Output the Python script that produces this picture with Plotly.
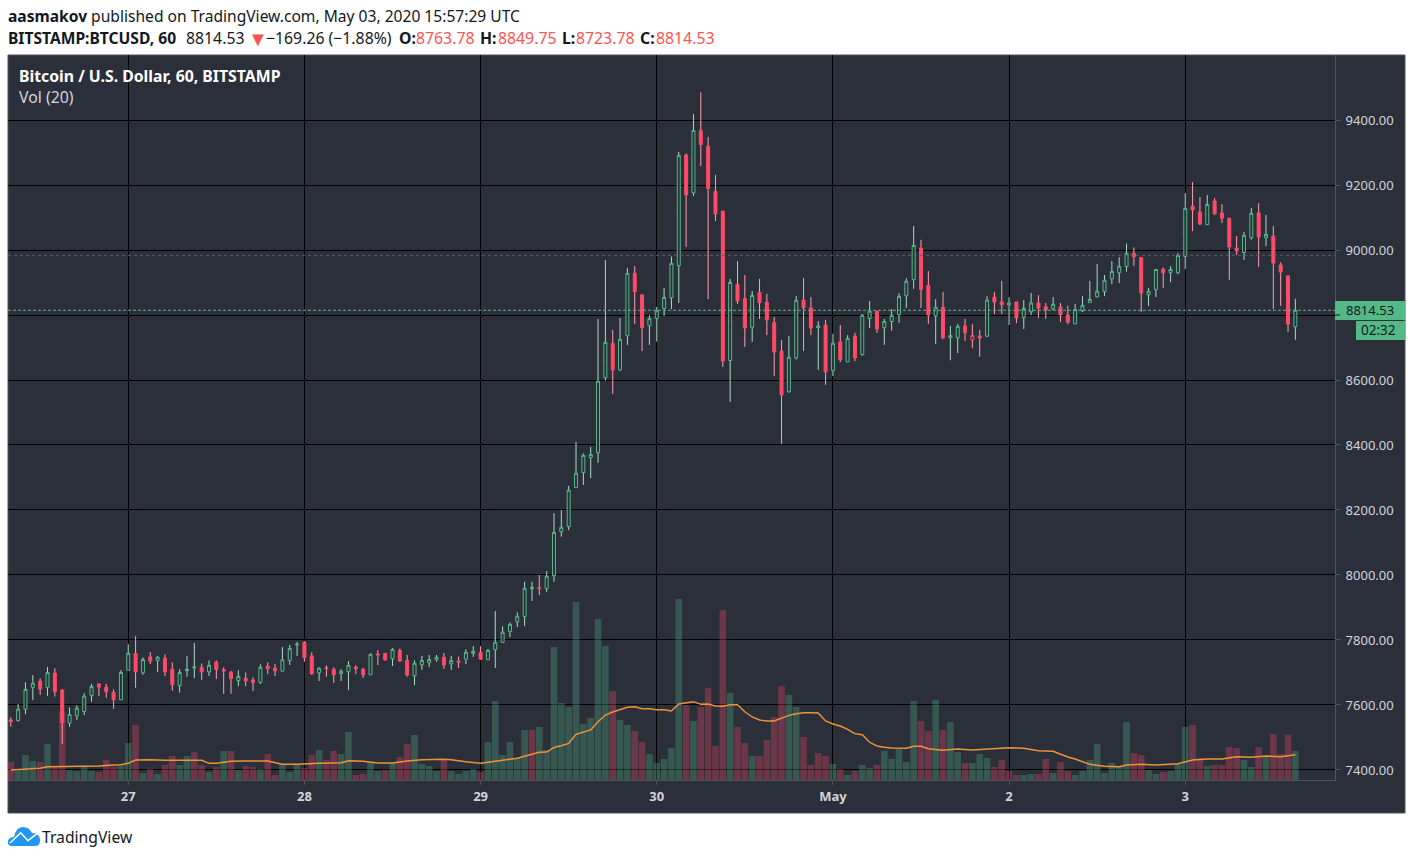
import pandas as pd
import plotly.graph_objects as go

W, H = 1414, 860

times = pd.date_range("2020-04-26 08:00", periods=176, freq="h")

opens = [
    7554, 7552, 7587, 7654, 7674, 7654, 7698, 7646, 7544, 7567,
    7580, 7629, 7665, 7655, 7639, 7616, 7707, 7759, 7699, 7748,
    7737, 7744, 7710, 7660, 7706, 7714, 7716, 7702, 7732, 7708,
    7701, 7675, 7682, 7677, 7669, 7720, 7714, 7704, 7737, 7785,
    7793, 7751, 7699, 7714, 7710, 7697, 7702, 7716, 7710, 7693,
    7757, 7759, 7742, 7768, 7737, 7690, 7724, 7730, 7739, 7747,
    7727, 7735, 7741, 7759, 7762, 7739, 7770, 7793, 7826, 7856,
    7872, 7958, 7960, 7958, 7998, 8133, 8149, 8269, 8315, 8361,
    8376, 8607, 8713, 8631, 8736, 8928, 8862, 8767, 8789, 8820,
    8853, 8952, 9292, 9176, 9368, 9319, 9180, 9120, 8660, 8894,
    8851, 8762, 8870, 8839, 8777, 8689, 8564, 8668, 8846, 8822,
    8761, 8769, 8629, 8717, 8656, 8735, 8678, 8789, 8812, 8761,
    8780, 8801, 8859, 8909, 9006, 8891, 8797, 8824, 8730, 8730,
    8766, 8724, 8735, 8735, 8855, 8840, 8831, 8840, 8792, 8810,
    8837, 8825, 8819, 8825, 8800, 8773, 8813, 8838, 8856, 8872,
    8911, 8930, 8949, 8990, 8977, 8862, 8878, 8941, 8930, 8930,
    8980, 9135, 9117, 9078, 9151, 9114, 9098, 9006, 8992, 9038,
    9114, 9038, 9043, 8954, 8920, 8763.78,
]
closes = [
    7549, 7587, 7648, 7667, 7649, 7700, 7641, 7546, 7571, 7590,
    7627, 7657, 7655, 7641, 7616, 7700, 7759, 7702, 7740, 7735,
    7747, 7702, 7662, 7700, 7710, 7717, 7702, 7722, 7709, 7705,
    7681, 7688, 7674, 7669, 7716, 7712, 7705, 7739, 7774, 7787,
    7746, 7696, 7713, 7712, 7693, 7704, 7722, 7712, 7693, 7756,
    7754, 7739, 7771, 7735, 7692, 7728, 7737, 7740, 7747, 7723,
    7737, 7732, 7762, 7765, 7741, 7768, 7793, 7824, 7848, 7873,
    7959, 7962, 7958, 7996, 8131, 8147, 8261, 8313, 8368, 8371,
    8596, 8716, 8631, 8725, 8928, 8872, 8761, 8789, 8813, 8854,
    8959, 9291, 9170, 9368, 9324, 9189, 9111, 8658, 8900, 8843,
    8760, 8860, 8838, 8785, 8686, 8554, 8670, 8845, 8822, 8760,
    8766, 8625, 8713, 8662, 8728, 8668, 8799, 8812, 8757, 8780,
    8799, 8857, 8904, 9014, 8878, 8800, 8824, 8729, 8737, 8765,
    8745, 8737, 8729, 8846, 8840, 8831, 8837, 8791, 8820, 8837,
    8821, 8815, 8833, 8800, 8778, 8817, 8830, 8848, 8873, 8907,
    8934, 8950, 8990, 8979, 8868, 8873, 8940, 8930, 8940, 8983,
    9128, 9123, 9080, 9140, 9111, 9098, 9009, 8997, 9045, 9113,
    9040, 9048, 8960, 8932, 8772, 8814.53,
]
highs = [
    7562, 7603, 7670, 7692, 7682, 7717, 7713, 7649, 7593, 7599,
    7636, 7665, 7665, 7665, 7648, 7707, 7787, 7812, 7747, 7763,
    7750, 7756, 7731, 7710, 7751, 7791, 7728, 7737, 7737, 7716,
    7705, 7707, 7700, 7685, 7725, 7731, 7726, 7778, 7785, 7794,
    7797, 7762, 7716, 7722, 7716, 7710, 7735, 7722, 7714, 7759,
    7769, 7760, 7775, 7774, 7754, 7737, 7751, 7754, 7754, 7760,
    7751, 7749, 7771, 7781, 7781, 7772, 7889, 7842, 7854, 7885,
    7979, 7979, 8000, 8012, 8190, 8200, 8274, 8409, 8374, 8394,
    8788, 8969, 8754, 8791, 8945, 8951, 8862, 8799, 8825, 8883,
    8980, 9302, 9297, 9418, 9485, 9348, 9231, 9120, 8911, 8966,
    8923, 8874, 8911, 8865, 8794, 8723, 8735, 8858, 8914, 8855,
    8781, 8785, 8742, 8769, 8738, 8745, 8803, 8843, 8812, 8788,
    8818, 8867, 8913, 9074, 9031, 8935, 8849, 8871, 8766, 8772,
    8788, 8772, 8754, 8858, 8871, 8905, 8855, 8840, 8846, 8868,
    8861, 8837, 8855, 8837, 8828, 8834, 8858, 8905, 8957, 8923,
    8966, 8978, 9020, 9008, 8977, 8883, 8940, 8946, 8950, 8990,
    9175, 9209, 9163, 9169, 9160, 9141, 9098, 9043, 9055, 9129,
    9144, 9108, 9074, 8962, 8923, 8849.75,
]
lows = [
    7533, 7549, 7572, 7615, 7631, 7628, 7626, 7480, 7533, 7554,
    7569, 7610, 7628, 7622, 7588, 7616, 7705, 7653, 7693, 7726,
    7702, 7689, 7644, 7638, 7687, 7683, 7677, 7689, 7680, 7634,
    7634, 7658, 7658, 7643, 7665, 7695, 7689, 7704, 7723, 7751,
    7733, 7693, 7674, 7687, 7668, 7674, 7646, 7695, 7683, 7693,
    7723, 7736, 7720, 7733, 7687, 7661, 7708, 7717, 7733, 7711,
    7708, 7714, 7726, 7748, 7739, 7739, 7714, 7791, 7809, 7840,
    7843, 7920, 7938, 7948, 7979, 8118, 8138, 8269, 8277, 8298,
    8345, 8598, 8557, 8628, 8708, 8772, 8689, 8708, 8718, 8797,
    8818, 8837, 9009, 9166, 9258, 8849, 9089, 8640, 8533, 8834,
    8702, 8717, 8788, 8738, 8612, 8403, 8561, 8663, 8689, 8738,
    8631, 8585, 8612, 8655, 8656, 8658, 8675, 8760, 8745, 8708,
    8752, 8776, 8822, 8881, 8822, 8773, 8711, 8726, 8661, 8683,
    8720, 8698, 8671, 8732, 8803, 8803, 8769, 8775, 8757, 8800,
    8791, 8788, 8815, 8778, 8772, 8773, 8809, 8838, 8854, 8858,
    8895, 8898, 8933, 8951, 8810, 8828, 8855, 8883, 8901, 8926,
    8941, 9058, 9077, 9078, 9108, 9083, 8908, 8984, 8969, 9032,
    8948, 9012, 8818, 8828, 8748, 8723.78,
]
volumes = [
    180, 93, 250, 190, 180, 360, 143, 683, 100, 90,
    133, 93, 80, 200, 133, 143, 370, 550, 70, 110,
    60, 150, 240, 150, 240, 280, 150, 80, 130, 290,
    290, 100, 140, 130, 110, 260, 50, 160, 80, 150,
    120, 250, 300, 200, 290, 260, 480, 50, 60, 173,
    90, 100, 167, 230, 360, 450, 160, 140, 90, 200,
    90, 60, 90, 110, 80, 380, 790, 250, 380, 220,
    500, 500, 530, 300, 1330, 770, 730, 1780, 560, 620,
    1610, 1340, 890, 600, 550, 490, 380, 260, 170, 210,
    320, 1810, 750, 590, 730, 920, 340, 1700, 870, 530,
    370, 240, 240, 400, 630, 940, 850, 730, 430, 150,
    270, 240, 160, 110, 50, 90, 150, 120, 150, 290,
    210, 310, 180, 790, 590, 490, 800, 500, 580, 280,
    170, 170, 260, 220, 130, 200, 90, 50, 50, 60,
    60, 210, 70, 180, 90, 50, 90, 200, 360, 70,
    170, 130, 580, 270, 250, 100, 60, 80, 90, 160,
    530, 550, 220, 140, 150, 150, 330, 320, 200, 130,
    330, 230, 460, 260, 450, 290,
]
volume_dirs = (
    "RGGGRGRRGG" "GGRRRGGRGR" "GRRGGRRGRG" "RGRRGRRGGG" "RRGRRGGRRG"
    "GRGRRGGGGR" "GGGGRGGGGG" "GRGGGGGGGG" "GGRGGRRGGG" "GGRGRRRRGR"
    "RGRRRRGGRR" "RRGRGRGGRG" "GGGGRRGRGG" "RGGGRRRRGG" "RRGRRGGGGG"
    "GGGRRGGRGG" "GRRGRRRRGG" "RGRRRG"
)
# bar numbers (1 = first candle) where the Vol MA line was read
ma_bars = [
    1, 4, 5, 6, 8, 11, 13, 15, 16, 17, 18, 20, 22, 27, 28, 29, 31, 33, 36, 38,
    40, 43, 46, 47, 49, 51, 53, 55, 57, 60, 61, 63, 65, 66, 68, 69, 70, 72, 73, 74,
    75, 76, 77, 78, 79, 80, 81, 82, 83, 84, 85, 86, 87, 88, 89, 90, 91, 92, 93, 94,
    95, 96, 97, 98, 99, 100, 101, 102, 103, 104, 105, 106, 107, 108, 109, 110, 111, 112, 113, 114,
    115, 116, 117, 118, 119, 120, 121, 123, 124, 125, 126, 128, 130, 132, 134, 137, 139, 141, 143, 145,
    146, 148, 150, 152, 153, 155, 157, 160, 162, 164, 166, 168, 170, 172, 174, 176,
]
ma_values = [
    100, 113, 117, 133, 133, 137, 140, 150, 153, 167, 200, 203, 197, 197, 167, 167, 187, 190, 190, 157,
    157, 167, 173, 193, 187, 170, 170, 190, 203, 207, 203, 183, 167, 177, 200, 213, 217, 257, 277, 280,
    327, 343, 367, 457, 480, 500, 583, 650, 680, 707, 727, 733, 713, 713, 703, 703, 690, 760, 773, 783,
    757, 760, 740, 737, 753, 753, 683, 630, 600, 590, 590, 617, 647, 663, 673, 673, 670, 590, 560, 540,
    507, 463, 453, 377, 340, 327, 320, 317, 337, 337, 313, 297, 310, 300, 310, 323, 317, 293, 287, 230,
    210, 157, 137, 133, 150, 157, 150, 163, 200, 210, 210, 233, 227, 240, 233, 253,
]
hollow_red_bars = [132]  # up candle drawn in red

price_ticks = [7400, 7600, 7800, 8000, 8200, 8400, 8600, 8800, 9000, 9200, 9400]
# 8800.00 sits under the last price label in the original
price_labels = ["7400.00", "7600.00", "7800.00", "8000.00", "8200.00", "8400.00",
                "8600.00", "", "9000.00", "9200.00", "9400.00"]
date_ticks = ["2020-04-27", "2020-04-28", "2020-04-29", "2020-04-30", "2020-05-01", "2020-05-02", "2020-05-03"]
date_labels = ["27", "28", "29", "30", "May", "2", "3"]
last_close = 8814.53
prev_close = 8983.79

BG = "#2b2f3a"
BORDER = "#50535e"
GREEN = "#53b987"
RED = "#ff4a68"
GREEN_WICK = "#a8dcc3"
RED_WICK = "#ff9fb0"
TEXT = "#d1d4dc"
INK = "#131722"
QUOTE_RED = "#ff5252"
FONT = "Noto Sans"


def px(x):
    return x / W


def py(y):
    return 1 - y / H


def candle_trace(bars, color, fill, wick=False):
    o = [opens[i] for i in bars]
    c = [closes[i] for i in bars]
    if wick:
        # flat box at mid body, the body trace drawn later covers it
        mid = [(a + b) / 2 for a, b in zip(o, c)]
        o, c = mid, mid
        hi = [highs[i] for i in bars]
        lo = [lows[i] for i in bars]
    else:
        hi = [max(a, b) for a, b in zip(o, c)]
        lo = [min(a, b) for a, b in zip(o, c)]
    style = dict(line=dict(color=color, width=1), fillcolor=fill)
    return go.Candlestick(
        x=[times[i] for i in bars], open=o, high=hi, low=lo, close=c,
        increasing=style, decreasing=style, whiskerwidth=0,
        yaxis="y2", hoverinfo="skip", showlegend=False,
    )


all_bars = range(len(times))
hollow_red = [b - 1 for b in hollow_red_bars]
down_bars = [i for i in all_bars if closes[i] < opens[i]]
up_bars = [i for i in all_bars if closes[i] >= opens[i] and i not in hollow_red]

fig = go.Figure()
fig.add_trace(go.Bar(
    x=times, y=volumes,
    marker=dict(color=["rgba(83,185,135,0.3)" if d == "G" else "rgba(255,74,104,0.3)" for d in volume_dirs],
                line=dict(width=0)),
    hoverinfo="skip", showlegend=False,
))
fig.add_trace(go.Scatter(
    x=[times[b - 1] for b in ma_bars], y=ma_values, mode="lines",
    line=dict(color="#f0923b", width=1.4), hoverinfo="skip", showlegend=False,
))
# wicks first, then the bodies on top so hollow ones hide the wick
fig.add_trace(candle_trace(up_bars, GREEN_WICK, GREEN_WICK, wick=True))
fig.add_trace(candle_trace(down_bars + hollow_red, RED_WICK, RED_WICK, wick=True))
fig.add_trace(candle_trace(up_bars, GREEN, BG))
fig.add_trace(candle_trace(down_bars, RED, RED))
fig.add_trace(candle_trace(hollow_red, RED, BG))

shapes = [
    dict(type="rect", xref="paper", yref="paper", layer="below",
         x0=px(8), x1=px(1405), y0=py(813), y1=py(55),
         fillcolor=BG, line=dict(color=BORDER, width=1)),
    dict(type="line", xref="paper", yref="y2", x0=px(8), x1=px(1335), y0=prev_close, y1=prev_close,
         line=dict(color="#5d606b", width=1, dash="dot")),
    dict(type="line", xref="paper", yref="y2", x0=px(8), x1=px(1335), y0=last_close, y1=last_close,
         line=dict(color=GREEN, width=1, dash="3px,2px")),
    dict(type="rect", xref="paper", yref="paper", x0=px(1335), x1=px(1405), y0=py(320), y1=py(301),
         fillcolor=GREEN, line=dict(width=0)),
    dict(type="rect", xref="paper", yref="paper", x0=px(1356), x1=px(1405), y0=py(340), y1=py(321),
         fillcolor=GREEN, line=dict(width=0)),
    dict(type="line", xref="paper", yref="y2", x0=px(1335), x1=px(1340), y0=8800, y1=8800,
         line=dict(color=INK, width=1)),
    # TradingView cloud
    dict(type="path", xref="paper", yref="paper", xsizemode="pixel", ysizemode="pixel",
         xanchor=px(8), yanchor=py(846),
         path="M4,0 Q-1,0 0,5 Q1,9 6,9 Q8,19 15,19 Q21,19 24,13 Q32,13 32,5 Q32,0 27,0 Z",
         fillcolor="#2196f3", line=dict(width=0)),
    dict(type="path", xref="paper", yref="paper", xsizemode="pixel", ysizemode="pixel",
         xanchor=px(8), yanchor=py(846),
         path="M2,3 L12.7,13.3 L20,5.3 L29.3,12.7",
         line=dict(color="white", width=1.5)),
]


def text_at(x, y, text, size, color, anchor="left"):
    # annotations keep about 2px of padding on the left
    x = x - 2 if anchor == "left" else x
    return dict(xref="paper", yref="paper", x=px(x), y=py(y), text=text, showarrow=False,
                xanchor=anchor, yanchor="middle", align=anchor,
                font=dict(family=FONT, size=size, color=color))


HEAD = 15.8
annotations = [
    text_at(8, 16, "<b>aasmakov</b> published on TradingView.com, May 03, 2020 15:57:29 UTC", 15.6, INK),
    text_at(8, 38, "<b>BITSTAMP:BTCUSD, 60</b>", 15.6, INK),
    text_at(186, 38, "8814.53", HEAD, INK),
    text_at(248, 38, "▼", 20, QUOTE_RED),
    text_at(266, 38, "−169.26 (−1.88%)", HEAD, INK),
    text_at(399, 38, "<b>O:</b>", HEAD, INK),
    text_at(416, 38, "8763.78", HEAD, QUOTE_RED),
    text_at(480, 38, "<b>H:</b>", HEAD, INK),
    text_at(498, 38, "8849.75", HEAD, QUOTE_RED),
    text_at(562, 38, "<b>L:</b>", HEAD, INK),
    text_at(576, 38, "8723.78", HEAD, QUOTE_RED),
    text_at(640, 38, "<b>C:</b>", HEAD, INK),
    text_at(656, 38, "8814.53", HEAD, QUOTE_RED),
    text_at(19, 76, "<b>Bitcoin / U.S. Dollar, 60, BITSTAMP</b>", 15.8, "#ffffff"),
    text_at(19, 97, "Vol (20)", 15.8, TEXT),
    text_at(1370, 310, f"{last_close:.2f}", 13, INK, "center"),
    text_at(1378, 330, "02:32", 13.5, INK, "center"),
    text_at(42, 837, "TradingView", 15.7, INK),
]

fig.update_layout(
    width=W, height=H, autosize=False,
    margin=dict(l=0, r=0, t=0, b=0),
    paper_bgcolor="white", plot_bgcolor="rgba(0,0,0,0)",
    bargap=0.1, boxmode="overlay", boxgap=0.42, hovermode=False, showlegend=False,
    shapes=shapes, annotations=annotations,
    xaxis=dict(
        domain=[px(8), px(1335)], type="date",
        range=["2020-04-26 07:37", "2020-05-03 20:24"],
        rangeslider=dict(visible=False),
        tickmode="array", tickvals=date_ticks, ticktext=[f"<b>{t}</b>" for t in date_labels],
        tickfont=dict(family=FONT, size=13, color=TEXT),
        ticks="outside", ticklen=4, tickcolor=BORDER,
        showgrid=True, gridcolor="#000000", gridwidth=1,
        showline=True, linecolor=BORDER, zeroline=False,
    ),
    # volume pane: baseline on the time scale, hidden axis
    yaxis=dict(domain=[py(780), py(55)], range=[0, 7250], visible=False, fixedrange=True),
    yaxis2=dict(
        overlaying="y", side="right", anchor="x", range=[7369.2, 9600],
        tickmode="array", tickvals=price_ticks, ticktext=price_labels,
        tickfont=dict(family=FONT, size=13, color=TEXT), ticklabelstandoff=2,
        ticks="outside", ticklen=5, tickcolor=BORDER,
        showgrid=True, gridcolor="#000000", gridwidth=1,
        showline=True, linecolor=BORDER, zeroline=False,
    ),
)

fig.write_html("out.html", config={"displayModeBar": False},
               post_script="document.body.style.margin='0';")
